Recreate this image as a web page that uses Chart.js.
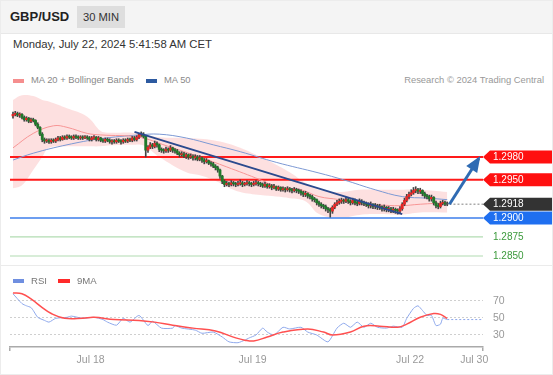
<!DOCTYPE html>
<html>
<head>
<meta charset="utf-8">
<script src="https://cdn.jsdelivr.net/npm/chart.js@4.4.0/dist/chart.umd.min.js"></script>
<style>
  body { margin: 0; background: #fff; font-family: Arial, "Liberation Sans", sans-serif; }
  #wrap { position: relative; width: 553px; height: 375px; overflow: hidden; background: #fff; }
  .t { position: absolute; white-space: nowrap; line-height: 14px; }
  .sw { position: absolute; height: 4px; width: 11px; }
  canvas { position: absolute; left: 0; }
</style>
</head>
<body>
<div id="wrap">
  <div style="position:absolute;left:0;top:0;width:553px;height:33px;background:#f4f4f4;border-bottom:1px solid #e8e8e8"></div>
  <div class="t" style="left:10px;top:10px;font-size:13px;font-weight:bold;color:#222">GBP/USD</div>
  <div class="t" style="left:77px;top:6px;width:48px;height:22px;line-height:22px;background:#dedede;color:#333;font-size:11.2px;text-align:center">30 MIN</div>
  <div class="t" style="left:13px;top:37px;font-size:11.3px;color:#333">Monday, July 22, 2024 5:41:58 AM CET</div>

  <div class="sw" style="left:13px;top:79px;background:#f58e8e"></div>
  <div class="t" style="left:31px;top:73px;font-size:9.4px;color:#8a8a8a">MA 20 + Bollinger Bands</div>
  <div class="sw" style="left:146px;top:79px;background:#2d5aa0"></div>
  <div class="t" style="left:164px;top:73px;font-size:9.4px;color:#8a8a8a">MA 50</div>
  <div class="t" style="right:9px;top:73px;font-size:9.4px;color:#999">Research © 2024 Trading Central</div>

  <canvas id="main" width="553" height="178" style="top:88px"></canvas>
  <div style="position:absolute;left:0;top:265px;width:553px;height:1px;background:#ebebeb"></div>
  <canvas id="rsi" width="553" height="109" style="top:266px"></canvas>

  <div class="sw" style="left:13px;top:279px;background:#6f8fe0"></div>
  <div class="t" style="left:31px;top:274px;font-size:9.6px;color:#777">RSI</div>
  <div class="sw" style="left:58px;top:279px;width:12px;background:#ff2a2a"></div>
  <div class="t" style="left:77px;top:274px;font-size:9.6px;color:#777">9MA</div>

  <div style="position:absolute;left:0;top:0;width:551px;height:373px;border:1px solid #ececec;pointer-events:none"></div>
</div>

<script>
// 20-min candles, x = candle index
const opens = [
  1.3034,1.3036,1.3037,1.3035,1.3036,1.3032,1.3029,1.3031,1.3027,1.3029,
  1.3028,1.3023,1.3019,1.3010,1.3003,1.3001,1.3002,1.3000,1.3002,1.3001,
  1.3003,1.3005,1.3003,1.3006,1.3005,1.3007,1.3006,1.3005,1.3007,1.3006,
  1.3005,1.3006,1.3005,1.3006,1.3005,1.3003,1.3005,1.3006,1.3003,1.3005,
  1.3002,1.3001,1.3003,1.3002,1.3000,1.3001,1.3000,1.3002,1.3001,1.3000,
  1.3002,1.3001,1.3003,1.3002,1.3005,1.3003,1.3006,1.3009,1.3010,1.3007,
  1.2989,1.2993,1.2996,1.2994,1.2998,1.2996,1.2990,1.2989,1.2988,1.2990,
  1.2989,1.2992,1.2989,1.2988,1.2985,1.2983,1.2984,1.2981,1.2983,1.2980,
  1.2981,1.2979,1.2980,1.2977,1.2979,1.2976,1.2974,1.2975,1.2972,1.2971,
  1.2968,1.2966,1.2963,1.2955,1.2948,1.2944,1.2945,1.2944,1.2946,1.2945,
  1.2944,1.2945,1.2946,1.2944,1.2945,1.2946,1.2945,1.2944,1.2945,1.2946,
  1.2945,1.2944,1.2942,1.2944,1.2941,1.2942,1.2940,1.2941,1.2938,1.2940,
  1.2937,1.2938,1.2937,1.2938,1.2937,1.2936,1.2937,1.2936,1.2935,1.2933,
  1.2931,1.2932,1.2929,1.2928,1.2925,1.2924,1.2920,1.2918,1.2916,1.2915,
  1.2912,1.2911,1.2909,1.2914,1.2918,1.2920,1.2922,1.2923,1.2922,1.2924,
  1.2922,1.2920,1.2923,1.2920,1.2919,1.2922,1.2920,1.2919,1.2918,1.2916,
  1.2918,1.2915,1.2916,1.2914,1.2915,1.2912,1.2914,1.2911,1.2912,1.2910,
  1.2911,1.2910,1.2909,1.2912,1.2918,1.2923,1.2928,1.2931,1.2933,1.2936,
  1.2937,1.2935,1.2936,1.2932,1.2929,1.2928,1.2925,1.2927,1.2920,1.2916,
  1.2915,1.2919,1.2920,1.2918
];
const highs = [
  1.3039,1.3040,1.3039,1.3038,1.3037,1.3034,1.3033,1.3032,1.3031,1.3031,
  1.3029,1.3025,1.3020,1.3012,1.3005,1.3004,1.3004,1.3004,1.3004,1.3005,
  1.3007,1.3007,1.3008,1.3008,1.3009,1.3009,1.3008,1.3009,1.3009,1.3008,
  1.3008,1.3008,1.3008,1.3008,1.3007,1.3007,1.3008,1.3007,1.3007,1.3006,
  1.3004,1.3005,1.3005,1.3004,1.3003,1.3003,1.3004,1.3004,1.3003,1.3004,
  1.3004,1.3005,1.3005,1.3007,1.3007,1.3008,1.3011,1.3013,1.3012,1.3008,
  1.2995,1.2999,1.2998,1.3001,1.3000,1.2997,1.2992,1.2991,1.2993,1.2992,
  1.2995,1.2993,1.2991,1.2990,1.2987,1.2987,1.2986,1.2985,1.2984,1.2984,
  1.2983,1.2983,1.2982,1.2982,1.2980,1.2978,1.2978,1.2976,1.2974,1.2973,
  1.2970,1.2968,1.2964,1.2956,1.2950,1.2948,1.2947,1.2949,1.2948,1.2947,
  1.2948,1.2950,1.2948,1.2947,1.2949,1.2948,1.2947,1.2948,1.2949,1.2948,
  1.2947,1.2946,1.2947,1.2945,1.2945,1.2944,1.2944,1.2942,1.2942,1.2941,
  1.2941,1.2940,1.2941,1.2940,1.2939,1.2940,1.2939,1.2938,1.2937,1.2935,
  1.2935,1.2933,1.2931,1.2930,1.2927,1.2925,1.2922,1.2920,1.2918,1.2917,
  1.2914,1.2913,1.2916,1.2920,1.2923,1.2925,1.2926,1.2925,1.2927,1.2926,
  1.2924,1.2926,1.2925,1.2922,1.2925,1.2924,1.2922,1.2921,1.2920,1.2921,
  1.2919,1.2919,1.2918,1.2918,1.2916,1.2917,1.2915,1.2915,1.2914,1.2914,
  1.2913,1.2912,1.2915,1.2920,1.2926,1.2931,1.2934,1.2937,1.2940,1.2941,
  1.2939,1.2939,1.2937,1.2934,1.2931,1.2930,1.2930,1.2928,1.2922,1.2919,
  1.2922,1.2923,1.2922,1.2921
];
const lows = [
  1.3031,1.3034,1.3033,1.3032,1.3030,1.3027,1.3027,1.3025,1.3025,1.3026,
  1.3021,1.3017,1.3008,1.3000,1.2998,1.2999,1.2998,1.2998,1.2999,1.2999,
  1.3001,1.3001,1.3002,1.3003,1.3003,1.3004,1.3003,1.3003,1.3004,1.3003,
  1.3003,1.3003,1.3004,1.3003,1.3001,1.3001,1.3003,1.3001,1.3001,1.3000,
  1.2999,1.2999,1.3000,1.2998,1.2997,1.2998,1.2998,1.2999,1.2997,1.2998,
  1.2999,1.2999,1.3000,1.3000,1.3001,1.3001,1.3004,1.3007,1.3005,1.2980,
  1.2986,1.2991,1.2991,1.2992,1.2993,1.2987,1.2986,1.2985,1.2986,1.2986,
  1.2987,1.2986,1.2985,1.2983,1.2980,1.2981,1.2979,1.2978,1.2977,1.2978,
  1.2976,1.2976,1.2975,1.2975,1.2973,1.2971,1.2972,1.2970,1.2968,1.2966,
  1.2963,1.2960,1.2952,1.2945,1.2941,1.2942,1.2941,1.2942,1.2942,1.2941,
  1.2942,1.2943,1.2941,1.2942,1.2943,1.2942,1.2941,1.2942,1.2943,1.2942,
  1.2941,1.2940,1.2940,1.2939,1.2939,1.2937,1.2938,1.2936,1.2936,1.2935,
  1.2935,1.2934,1.2935,1.2934,1.2933,1.2934,1.2933,1.2932,1.2930,1.2928,
  1.2928,1.2926,1.2925,1.2922,1.2921,1.2917,1.2915,1.2913,1.2912,1.2909,
  1.2907,1.2901,1.2906,1.2912,1.2916,1.2918,1.2919,1.2919,1.2920,1.2919,
  1.2917,1.2918,1.2917,1.2916,1.2917,1.2917,1.2916,1.2915,1.2913,1.2913,
  1.2912,1.2912,1.2911,1.2911,1.2909,1.2909,1.2908,1.2908,1.2907,1.2907,
  1.2906,1.2905,1.2906,1.2910,1.2916,1.2921,1.2925,1.2929,1.2931,1.2933,
  1.2932,1.2932,1.2929,1.2926,1.2925,1.2922,1.2922,1.2917,1.2913,1.2912,
  1.2913,1.2917,1.2916,1.2916
];
const closes = [
  1.3036,1.3037,1.3035,1.3036,1.3032,1.3029,1.3031,1.3027,1.3029,1.3028,
  1.3023,1.3019,1.3010,1.3003,1.3001,1.3002,1.3000,1.3002,1.3001,1.3003,
  1.3005,1.3003,1.3006,1.3005,1.3007,1.3006,1.3005,1.3007,1.3006,1.3005,
  1.3006,1.3005,1.3006,1.3005,1.3003,1.3005,1.3006,1.3003,1.3005,1.3002,
  1.3001,1.3003,1.3002,1.3000,1.3001,1.3000,1.3002,1.3001,1.3000,1.3002,
  1.3001,1.3003,1.3002,1.3005,1.3003,1.3006,1.3009,1.3010,1.3007,1.2989,
  1.2993,1.2996,1.2994,1.2998,1.2996,1.2990,1.2989,1.2988,1.2990,1.2989,
  1.2992,1.2989,1.2988,1.2985,1.2983,1.2984,1.2981,1.2983,1.2980,1.2981,
  1.2979,1.2980,1.2977,1.2979,1.2976,1.2974,1.2975,1.2972,1.2971,1.2968,
  1.2966,1.2963,1.2955,1.2948,1.2944,1.2945,1.2944,1.2946,1.2945,1.2944,
  1.2945,1.2946,1.2944,1.2945,1.2946,1.2945,1.2944,1.2945,1.2946,1.2945,
  1.2944,1.2942,1.2944,1.2941,1.2942,1.2940,1.2941,1.2938,1.2940,1.2937,
  1.2938,1.2937,1.2938,1.2937,1.2936,1.2937,1.2936,1.2935,1.2933,1.2931,
  1.2932,1.2929,1.2928,1.2925,1.2924,1.2920,1.2918,1.2916,1.2915,1.2912,
  1.2911,1.2909,1.2914,1.2918,1.2920,1.2922,1.2923,1.2922,1.2924,1.2922,
  1.2920,1.2923,1.2920,1.2919,1.2922,1.2920,1.2919,1.2918,1.2916,1.2918,
  1.2915,1.2916,1.2914,1.2915,1.2912,1.2914,1.2911,1.2912,1.2910,1.2911,
  1.2910,1.2909,1.2912,1.2918,1.2923,1.2928,1.2931,1.2933,1.2936,1.2937,
  1.2935,1.2936,1.2932,1.2929,1.2928,1.2925,1.2927,1.2920,1.2916,1.2915,
  1.2919,1.2920,1.2918,1.2918
];

// bollinger bands (20) and moving averages, read at these candle indexes
const bandIdx = [0,4,9,13,16,24,33,39,42,53,58,65,77,83,89,95,101,110,117,123,130,136,145,154,163,172,181,193];
const upperBand = [1.3055,1.3061,1.3060,1.3055,1.3053,1.3044,1.3033,1.3014,1.3012,1.3012,1.3010,1.3006,1.3005,1.3004,1.3002,1.2998,1.2992,1.2980,1.2970,1.2960,1.2946,1.2937,1.2934,1.2937,1.2937,1.2937,1.2937,1.2934];
const lowerBand = [1.2939,1.2943,1.2963,1.2980,1.2992,1.2994,1.2994,1.2994,1.2995,1.2996,1.2995,1.2980,1.2960,1.2956,1.2950,1.2941,1.2934,1.2930,1.2928,1.2926,1.2922,1.2905,1.2900,1.2904,1.2905,1.2904,1.2907,1.2907];
const ma20Idx = [0,9,18,24,33,39,56,68,83,95,110,117,128,136,145,154,163,172,181,193];
const ma20 = [1.2992,1.3011,1.3021,1.3019,1.3011,1.3009,1.3006,1.2995,1.2980,1.2967,1.2950,1.2941,1.2937,1.2928,1.2924,1.2918,1.2917,1.2916,1.2918,1.2920];
const ma50Idx = [0,9,24,39,56,65,77,89,101,117,136,147,161,173,184,193];
const ma50 = [1.2976,1.2985,1.2996,1.3004,1.3009,1.3010,1.3005,1.2996,1.2987,1.2973,1.2959,1.2950,1.2937,1.2928,1.2926,1.2924];

const trendIdx = [54, 173];
const trendValues = [1.3013, 1.2905];
const arrowIdx = [194, 207];
const arrowValues = [1.2918, 1.2978];

const resistances = [1.2980, 1.2950];
const supports = [1.2900, 1.2875, 1.2850];
const lastPrice = 1.2918;

// RSI panel
const rsiIdx = [0,4,6,8,9,11,14,16,19,24,26,31,36,40,42,46,49,52,56,60,62,66,71,72,75,81,84,89,93,96,100,103,105,108,111,113,116,120,123,128,131,135,140,144,147,150,153,156,159,162,166,169,173,175,178,180,182,184,186,188,190,191,193];
const rsiValues = [78,66.6,64,62,58.6,50.6,47,45,49.4,50.6,52,49.5,50.6,48,45,41.4,49.4,45,52.8,41,46,38,38,41,38,35.7,32,33.4,27.7,22,21,24,26.6,30,38,33.4,30,39,37,39,33.4,30,22,38,43.7,39,45,39,43.7,39,38,40.3,39,49.4,61,64,58.6,52.8,52.8,41,42.6,49.4,48];
const rsiMaIdx = [0,4,8,13,17,23,31,36,45,56,63,71,80,90,99,103,107,113,120,131,138,142,150,156,163,171,175,181,187,190,193];
const rsiMaValues = [79,78,72,62,55,49.4,49.5,50.6,48,47,45,41.4,38,34.6,26.6,24,23,27.7,33.4,37,33.4,30,33.4,40.3,40.3,39,42.6,50.6,55,54,49.4];
const rsiTicks = [30, 50, 70];

const xTickLabels = ['Jul 18', 'Jul 19', 'Jul 22', 'Jul 30'];
const xTickIdx = [34.5, 106.5, 176.5, 205];

const xMin = -1.33, xMax = 208.9;

const pts = (xs, ys) => xs.map((x, i) => ({ x: x, y: ys[i] }));
const flat = v => [{ x: xMin, y: v }, { x: xMax, y: v }];

const UP = '#e42626', DOWN = '#1f7a2a';
const bodyColors = closes.map((c, i) => c > opens[i] ? UP : (c < opens[i] ? DOWN : '#555'));

function levelLine(v, color, width, order) {
  return { type: 'line', data: flat(v), borderColor: color, borderWidth: width, pointRadius: 0, fill: false, order: order };
}

const tagPlugin = {
  id: 'tags',
  afterDatasetsDraw(chart) {
    const { ctx, scales: { x, y } } = chart;
    // arrow head
    const x1 = x.getPixelForValue(arrowIdx[0]), y1 = y.getPixelForValue(arrowValues[0]);
    const x2 = x.getPixelForValue(arrowIdx[1]), y2 = y.getPixelForValue(arrowValues[1]);
    const a = Math.atan2(y2 - y1, x2 - x1);
    const len = 13, half = 6.5;
    ctx.save();
    ctx.fillStyle = '#2f6bb3';
    ctx.beginPath();
    ctx.moveTo(x2 + 3 * Math.cos(a), y2 + 3 * Math.sin(a));
    ctx.lineTo(x2 - len * Math.cos(a) + half * Math.sin(a), y2 - len * Math.sin(a) - half * Math.cos(a));
    ctx.lineTo(x2 - len * Math.cos(a) - half * Math.sin(a), y2 - len * Math.sin(a) + half * Math.cos(a));
    ctx.closePath();
    ctx.fill();
    ctx.restore();
  },
  afterDraw(chart) {
    const { ctx, chartArea, scales: { y } } = chart;
    const x0 = chartArea.right, xr = chart.width;
    function tag(v, bg) {
      const yp = y.getPixelForValue(v), h = 13;
      ctx.fillStyle = bg;
      ctx.beginPath();
      ctx.moveTo(x0, yp);
      ctx.lineTo(x0 + 7, yp - h / 2);
      ctx.lineTo(xr, yp - h / 2);
      ctx.lineTo(xr, yp + h / 2);
      ctx.lineTo(x0 + 7, yp + h / 2);
      ctx.closePath();
      ctx.fill();
      ctx.fillStyle = '#fff';
      ctx.fillText(v.toFixed(4), x0 + 10, yp + 0.5);
    }
    ctx.save();
    ctx.font = '10px Arial, "Liberation Sans", sans-serif';
    ctx.textBaseline = 'middle';
    resistances.forEach(v => tag(v, '#ff1010'));
    tag(lastPrice, '#333333');
    tag(supports[0], '#1f6ff0');
    supports.slice(1).forEach(v => {
      ctx.fillStyle = '#3c9a3c';
      ctx.fillText(v.toFixed(4), x0 + 10, y.getPixelForValue(v) + 0.5);
    });
    ctx.restore();
  }
};

new Chart(document.getElementById('main'), {
  type: 'bar',
  data: {
    datasets: [
      { type: 'line', data: pts(arrowIdx, arrowValues), borderColor: '#2f6bb3', borderWidth: 3, pointRadius: 0, order: 0 },
      { type: 'line', data: pts(trendIdx, trendValues), borderColor: '#2b4a8e', borderWidth: 2, pointRadius: 0, order: 1 },
      { type: 'bar', data: closes.map((c, i) => ({ x: i, y: [opens[i], c] })), backgroundColor: bodyColors,
        barThickness: 2.2, grouped: false, borderWidth: 0, minBarLength: 1, order: 2 },
      { type: 'bar', data: closes.map((c, i) => ({ x: i, y: [lows[i], highs[i]] })), backgroundColor: '#444',
        barThickness: 1, grouped: false, borderWidth: 0, order: 3 },
      { type: 'line', data: pts(ma20Idx, ma20), borderColor: '#f79595', borderWidth: 1, tension: 0.4, pointRadius: 0, order: 4 },
      { type: 'line', data: pts(ma50Idx, ma50), borderColor: '#7d99d4', borderWidth: 1, tension: 0.4, pointRadius: 0, order: 5 },
      { type: 'line', data: [{ x: arrowIdx[0], y: lastPrice }, { x: xMax, y: lastPrice }], borderColor: '#aaa', borderDash: [2, 2], borderWidth: 1.5, pointRadius: 0, order: 6 },
      levelLine(resistances[0], '#ff1a1a', 2, 6),
      levelLine(resistances[1], '#ff1a1a', 2, 6),
      levelLine(supports[0], '#6d9ef0', 2, 6),
      levelLine(supports[1], '#b2dcb2', 1.2, 6),
      levelLine(supports[2], '#b2dcb2', 1.2, 6),
      { type: 'line', data: pts(bandIdx, upperBand), borderWidth: 0, borderColor: 'rgba(0,0,0,0)', pointRadius: 0, tension: 0.4,
        fill: '+1', backgroundColor: 'rgba(252,198,198,0.55)', order: 7 },
      { type: 'line', data: pts(bandIdx, lowerBand), borderWidth: 0, borderColor: 'rgba(0,0,0,0)', pointRadius: 0, tension: 0.4, fill: false, order: 7 }
    ]
  },
  options: {
    responsive: false,
    animation: false,
    devicePixelRatio: 1,
    layout: { padding: { left: 10, right: 70, top: 2, bottom: 2 } },
    plugins: { legend: { display: false }, tooltip: { enabled: false } },
    scales: {
      x: { type: 'linear', min: xMin, max: xMax, offset: false, display: false },
      y: { type: 'linear', min: 1.28395, max: 1.30680, display: false }
    }
  },
  plugins: [tagPlugin]
});

new Chart(document.getElementById('rsi'), {
  type: 'line',
  data: {
    datasets: [
      { data: pts(rsiMaIdx, rsiMaValues), borderColor: '#ff5050', borderWidth: 1.5, tension: 0.4, pointRadius: 0 },
      { data: pts(rsiIdx, rsiValues), borderColor: '#8fa9ec', borderWidth: 1, tension: 0.2, pointRadius: 0 },
      { data: [{ x: rsiIdx[rsiIdx.length - 1], y: rsiValues[rsiValues.length - 1] }, { x: xMax, y: rsiValues[rsiValues.length - 1] }],
        borderColor: '#8fa9ec', borderDash: [2, 2], borderWidth: 1, pointRadius: 0 }
    ]
  },
  options: {
    responsive: false,
    animation: false,
    devicePixelRatio: 1,
    layout: { padding: { left: 10, right: 0, top: 21.8, bottom: 0 } },
    plugins: { legend: { display: false }, tooltip: { enabled: false } },
    scales: {
      x: {
        type: 'linear', min: xMin, max: xMax,
        afterBuildTicks: s => { s.ticks = [xMin, ...xTickIdx, xMax].map(v => ({ value: v })); },
        afterFit: s => { s.height = 28; },
        ticks: {
          autoSkip: false, maxRotation: 0, color: '#999', padding: 3,
          font: { size: 10.5, family: 'Arial, "Liberation Sans", sans-serif' },
          callback: v => { const k = xTickIdx.indexOf(v); return k >= 0 ? xTickLabels[k] : ''; }
        },
        grid: {
          drawOnChartArea: false, drawTicks: true, tickLength: 4, lineWidth: 1.5,
          color: c => (c.tick && (c.tick.value === xMin || c.tick.value === xMax)) ? '#aaa' : 'rgba(0,0,0,0)'
        },
        border: { display: true, color: '#aaa', width: 1.5 }
      },
      y: {
        position: 'right', min: 16, max: 85,
        afterBuildTicks: s => { s.ticks = rsiTicks.map(v => ({ value: v })); },
        afterFit: s => { s.width = 70; },
        ticks: { color: '#999', padding: 10, font: { size: 10.5, family: 'Arial, "Liberation Sans", sans-serif' } },
        grid: { color: '#cfcfcf', drawTicks: false, lineWidth: 1 },
        border: { display: false, dash: [2, 2] }
      }
    }
  }
});
</script>
</body>
</html>
